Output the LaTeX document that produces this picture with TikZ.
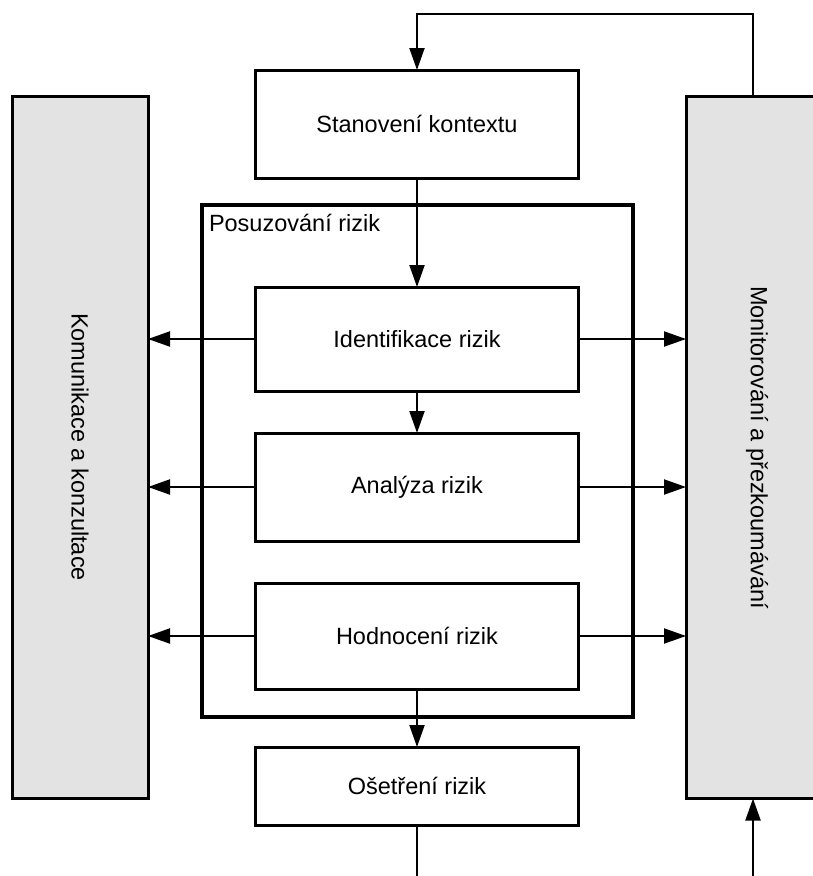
\documentclass[tikz,border=0pt]{standalone}
\usepackage{fontspec}
\setmainfont{Liberation Sans}
\usetikzlibrary{arrows.meta}
\definecolor{sidegray}{RGB}{227,227,227}
\begin{document}
\begin{tikzpicture}[x=1pt,y=-1pt,
  every node/.style={font=\fontsize{23.5}{28}\selectfont, inner sep=0pt, outer sep=0pt},
  stepbox/.style={draw, line width=3pt, minimum width=323pt, minimum height=#1, fill=white},
  sidebox/.style={draw, line width=3pt, fill=sidegray, minimum height=702pt, minimum width=#1},
  groupbox/.style={draw, line width=4pt},
  conn/.style={line width=2pt, -{Triangle[length=22pt,width=15pt]}},
  plain/.style={line width=2pt}
]
\useasboundingbox (0,0) rectangle (813,876);
\clip (0,0) rectangle (813,876);
\fill[white] (0,0) rectangle (813,876);

% side boxes
\node[sidebox=136pt] (kom) at (80,447) {};
\node[rotate=-90] at (kom.center) {Komunikace a konzultace};
\node[sidebox=142pt] (mon) at (757,447.5) {};
\node[rotate=-90] at (mon.center) {Monitorování a přezkoumávání};

% group box
\node[groupbox, minimum width=431pt, minimum height=512pt] (pos) at (417.5,461) {};
\node[anchor=west] (poslbl) at (209,223) {Posuzování rizik};

% step boxes
\node[stepbox=108pt] (stan) at (417,124) {Stanovení kontextu};
\node[stepbox=104pt] (ide) at (417,339) {Identifikace rizik};
\node[stepbox=108pt] (ana) at (417,487) {Analýza rizik};
\node[stepbox=106pt] (hod) at (417,636) {Hodnocení rizik};
\node[stepbox=78pt] (ose) at (417,786) {Ošetření rizik};

% top feedback loop
\coordinate (t1) at (753,14);
\coordinate (t2) at (417,14);
\draw[conn] (mon.north -| t1) -- (t1) -- (t2) -- (stan);

% main flow
\draw[conn] (stan) -- (ide);
\draw[conn] (ide) -- (ana);
\draw[conn] (hod) -- (ose);

% side arrows
\draw[conn] (ide) -- (ide -| kom.east);
\draw[conn] (ide) -- (ide -| mon.west);
\draw[conn] (ana) -- (ana -| kom.east);
\draw[conn] (ana) -- (ana -| mon.west);
\draw[conn] (hod) -- (hod -| kom.east);
\draw[conn] (hod) -- (hod -| mon.west);

% bottom connectors
\coordinate (b1) at (417,880);
\coordinate (b2) at (753,880);
\draw[plain] (ose) -- (b1);
\draw[conn] (b2) -- (b2 |- mon.south);
\end{tikzpicture}
\end{document}
